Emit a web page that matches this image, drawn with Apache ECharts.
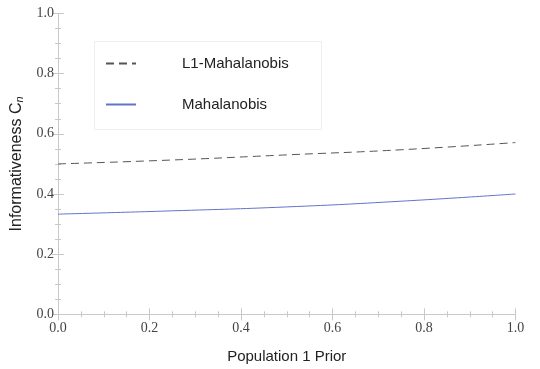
<!DOCTYPE html>
<html lang="en">
<head>
    <meta charset="UTF-8" />
    <title>Informativeness</title>
    <script src="https://cdn.jsdelivr.net/npm/echarts@6/dist/echarts.min.js"></script>
</head>
<body style="margin:0">
    <div id="chart" style="width: 540px; height: 369px"></div>
    <script>
        // values
        var priors = [0, 0.25, 0.5, 0.75, 1];
        var l1Mahalanobis = [0.500, 0.513, 0.530, 0.547, 0.571];
        var mahalanobis = [0.333, 0.344, 0.357, 0.376, 0.400];

        var serifFont = "'Liberation Serif', 'DejaVu Serif', serif";
        var sansFont = "'Liberation Sans', Arial, sans-serif";
        var frame = "#c8c8c8";

        function pairs(ys) {
            return priors.map(function (x, i) { return [x, ys[i]]; });
        }

        function fmt(v) { return v.toFixed(1); }

        function axis(pos, showLabels, extra) {
            var a = {
                type: "value",
                position: pos,
                min: 0,
                max: 1,
                interval: 0.2,
                axisLine: { show: true, lineStyle: { color: frame, width: 1 } },
                axisTick: { show: true, inside: true, length: 6, lineStyle: { color: frame } },
                minorTick: { show: true, splitNumber: 4, length: 3, lineStyle: { color: frame } },
                splitLine: { show: false },
                axisLabel: { show: showLabels, color: "#444", fontFamily: serifFont, fontSize: 14, formatter: fmt }
            };
            return Object.assign(a, extra || {});
        }

        var chart = echarts.init(document.getElementById("chart"));
        chart.setOption({
            animation: false,
            grid: { left: 58, right: 24.5, top: 13.5, bottom: 54.7, outerBoundsMode: "none", containLabel: false },
            xAxis: [
                axis("bottom", true, {
                    name: "Population 1 Prior",
                    nameLocation: "middle",
                    nameGap: 35,
                    nameTextStyle: { fontFamily: sansFont, fontSize: 15, color: "#222" },
                    axisLabel: { color: "#444", fontFamily: serifFont, fontSize: 14, margin: 7, formatter: fmt }
                }),
                axis("top", false)
            ],
            yAxis: [
                axis("left", true, {
                    name: "{a|Informativeness C}{b|n}",
                    nameLocation: "middle",
                    nameGap: 23,
                    nameTextStyle: {
                        rich: {
                            a: { fontFamily: sansFont, fontSize: 16, color: "#222" },
                            b: { fontFamily: sansFont, fontSize: 11, fontStyle: "italic", color: "#222", verticalAlign: "bottom", padding: [8, 0, 0, 0] }
                        }
                    },
                    axisLabel: { color: "#444", fontFamily: serifFont, fontSize: 14, margin: 4, formatter: fmt }
                }),
                axis("right", false)
            ],
            legend: {
                orient: "vertical",
                left: 100,
                top: 51,
                itemWidth: 30,
                itemHeight: 14,
                itemGap: 26,
                itemStyle: { opacity: 0 },
                textStyle: { fontFamily: sansFont, fontSize: 15, color: "#222", padding: [0, 0, 0, 41] },
                data: ["L1-Mahalanobis", "Mahalanobis"]
            },
            graphic: [{
                type: "rect",
                left: 92,
                top: 39,
                shape: { width: 227, height: 88 },
                style: { fill: "none", stroke: "#eeeeee", lineWidth: 1 },
                silent: true
            }],
            series: [
                {
                    name: "L1-Mahalanobis",
                    type: "line",
                    smooth: true,
                    symbol: "none",
                    data: pairs(l1Mahalanobis),
                    lineStyle: { color: "#555", width: 1, type: [8, 5] },
                    itemStyle: { color: "#555" }
                },
                {
                    name: "Mahalanobis",
                    type: "line",
                    smooth: true,
                    symbol: "none",
                    data: pairs(mahalanobis),
                    lineStyle: { color: "#6174c8", width: 1 },
                    itemStyle: { color: "#6174c8" }
                }
            ]
        });
    </script>
</body>
</html>
